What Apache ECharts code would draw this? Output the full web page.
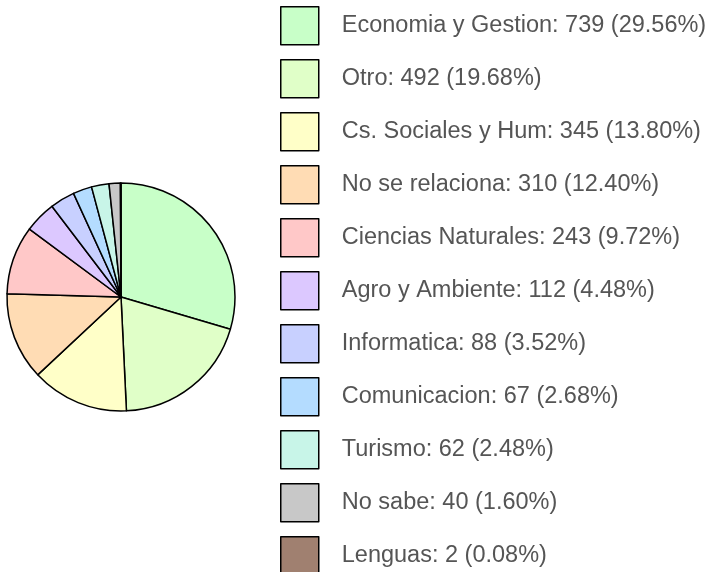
<!DOCTYPE html>
<html>
<head>
<meta charset="utf-8">
<script src="https://cdn.jsdelivr.net/npm/echarts@6/dist/echarts.min.js"></script>
<style>
  html, body { margin: 0; padding: 0; background: #fff; }
  #chart { width: 714px; height: 572px; }
</style>
</head>
<body>
<div id="chart"></div>
<script>
const categories = ['Economia y Gestion', 'Otro', 'Cs. Sociales y Hum', 'No se relaciona',
  'Ciencias Naturales', 'Agro y Ambiente', 'Informatica', 'Comunicacion', 'Turismo',
  'No sabe', 'Lenguas']
const counts = [739, 492, 345, 310, 243, 112, 88, 67, 62, 40, 2]
const colors = ['#c8ffc8', '#e0ffc8', '#ffffc8', '#ffdcb4', '#ffc8c8', '#dcc8ff',
  '#c8d0ff', '#b4dcff', '#c8f5e8', '#c8c8c8', '#a08070']

const total = counts.reduce((a, b) => a + b, 0)
const pieData = categories.map((name, i) => ({
  name: name,
  value: counts[i],
  itemStyle: { color: colors[i] }
}))

const chart = echarts.init(document.getElementById('chart'))
chart.setOption({
  animation: false,
  legend: {
    orient: 'vertical',
    left: 280, top: 6,
    height: 800,
    padding: 0,
    itemWidth: 38, itemHeight: 38, itemGap: 13.5,
    icon: 'rect',
    selectedMode: false,
    itemStyle: { borderColor: '#000', borderWidth: 1.5 },
    textStyle: {
      fontFamily: 'Liberation Sans, Arial, sans-serif',
      fontSize: 23.5, lineHeight: 30, color: '#555', padding: [4, 0, 0, 18]
    },
    formatter: name => {
      const i = categories.indexOf(name)
      return name + ': ' + counts[i] + ' (' + (counts[i] / total * 100).toFixed(2) + '%)'
    },
    data: categories
  },
  series: [{
    type: 'pie',
    center: [121, 297],
    radius: 114,
    startAngle: 90,
    clockwise: true,
    label: { show: false },
    labelLine: { show: false },
    emphasis: { disabled: true },
    itemStyle: { borderColor: '#000', borderWidth: 1.5 },
    data: pieData
  }]
})
</script>
</body>
</html>
